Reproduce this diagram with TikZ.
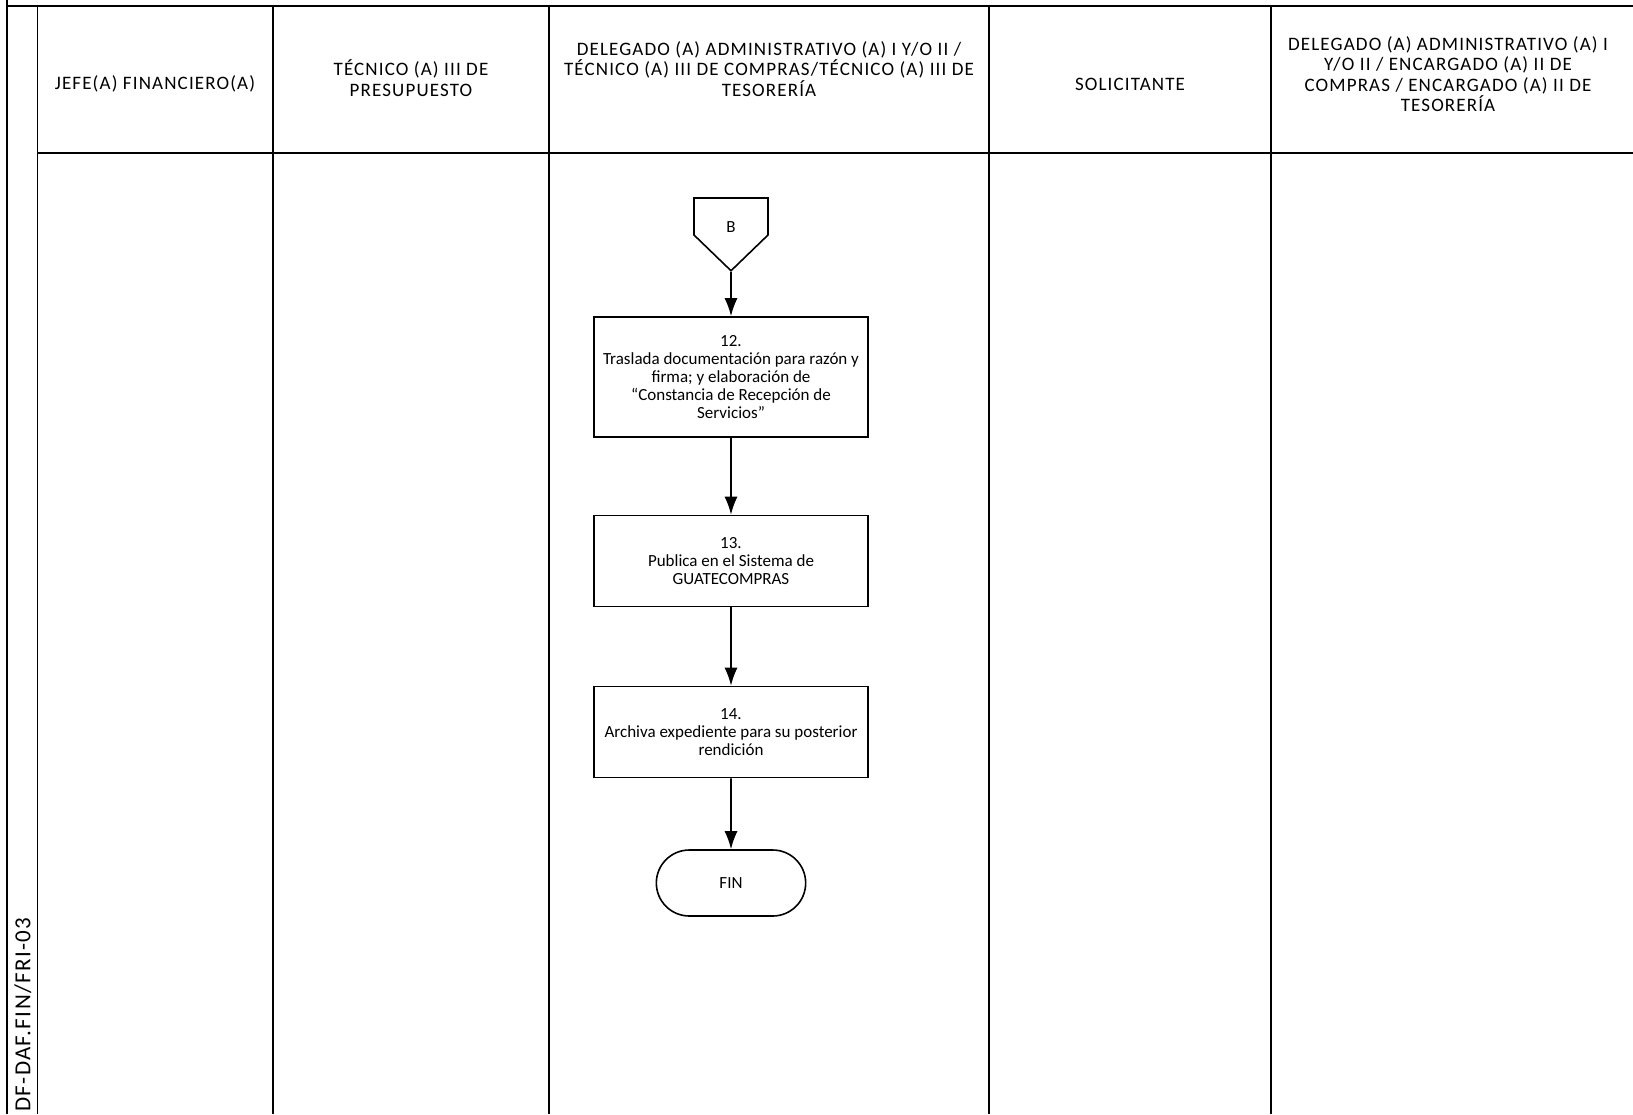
\documentclass[tikz,border=0pt]{standalone}
\usepackage{fontspec}
\setmainfont{Carlito}
\newfontfamily\anchafont{Carlito}[LetterSpace=6]
\usetikzlibrary{arrows.meta}
\usetikzlibrary{shapes.symbols}
\usetikzlibrary{shapes.misc}
\tikzset{>={Latex[length=18pt,width=13pt]}}
\tikzset{
    lane/.style={line width=1.6pt},
    header/.style={align=center, font=\anchafont\fontsize{19}{20.5}\selectfont},
    paso/.style={draw, line width=1.6pt, minimum width=274pt, align=center, inner sep=2pt, font=\fontsize{17}{18.2}\selectfont},
    flujo/.style={->, line width=1.6pt},
}

\begin{document}
\begin{tikzpicture}[x=1pt, y=-1pt]
            \useasboundingbox (0, 0) rectangle (1633, 1114);
            
            % carriles
            \draw[lane] (7, 0) -- (7, 1114);
            \draw[lane] (7, 6) -- (1633, 6);
            \draw[lane] (37.5, 6) -- (37.5, 1114);
            \draw[lane] (273, 6) -- (273, 1114);
            \draw[lane] (549, 6) -- (549, 1114);
            \draw[lane] (989, 6) -- (989, 1114);
            \draw[lane] (1271, 6) -- (1271, 1114);
            \draw[lane] (37.5, 153) -- (1633, 153);
            
            \node [header] (jefe) at (155, 84) {JEFE(A) FINANCIERO(A)};
            \node [header] (presupuesto) at (411, 78) {TÉCNICO (A) III DE\\PRESUPUESTO};
            \node [header] (delegado) at (769, 69) {DELEGADO (A) ADMINISTRATIVO (A) I Y/O II /\\TÉCNICO (A) III DE COMPRAS/TÉCNICO (A) III DE\\TESORERÍA};
            \node [header] (solicitante) at (1130, 84) {SOLICITANTE};
            \node [header] (encargado) at (1448, 74) {DELEGADO (A) ADMINISTRATIVO (A) I\\Y/O II / ENCARGADO (A) II DE\\COMPRAS / ENCARGADO (A) II DE\\TESORERÍA};
            
            \node [rotate=90, anchor=west, inner sep=0pt, font=\anchafont\fontsize{23}{27}\selectfont] (codigo) at (23, 1112) {DF-DAF.FIN/FRI-03};
            
            % flujo
            \node [draw, line width=1.6pt, signal, signal to=south, signal pointer angle=92, minimum width=74pt, minimum height=37pt, inner sep=0pt] (conB) at (731, 216.5) {};
            \node [font=\fontsize{17}{18.2}\selectfont] (letraB) at (731, 227) {B};
            \node [paso, minimum height=120pt] (p12) at (731, 377) {12.\\Traslada documentación para razón y\\firma; y elaboración de\\“Constancia de Recepción de\\Servicios”};
            \node [paso, minimum height=91pt] (p13) at (731, 561) {13.\\Publica en el Sistema de\\GUATECOMPRAS};
            \node [paso, minimum height=91pt] (p14) at (731, 732) {14.\\Archiva expediente para su posterior\\rendición};
            \node [draw, line width=1.6pt, rounded rectangle, minimum width=156pt, minimum height=66pt, font=\fontsize{17}{18.2}\selectfont] (fin) at (731, 883) {FIN};
            
            \draw[flujo] (conB.south) -- (p12);
            \draw[flujo] (p12) -- (p13);
            \draw[flujo] (p13) -- (p14);
            \draw[flujo] (p14) -- (fin);
        \end{tikzpicture}
\end{document}
